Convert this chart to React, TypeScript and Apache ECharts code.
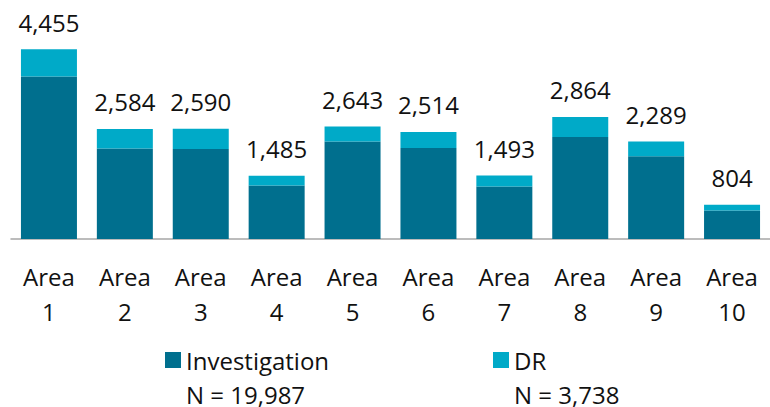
import React, { useEffect, useRef } from "react";
import * as echarts from "echarts";

const categories = ["Area\n1", "Area\n2", "Area\n3", "Area\n4", "Area\n5", "Area\n6", "Area\n7", "Area\n8", "Area\n9", "Area\n10"];
const investigation = [3815, 2126, 2114, 1257, 2288, 2138, 1234, 2396, 1944, 671];
const dr = [640, 458, 476, 228, 355, 376, 259, 468, 345, 133];
const seriesNames = ["Investigation", "DR"];
const seriesN = [19987, 3738];

const FONT = "'Open Sans', 'Noto Sans', sans-serif";
const fmt = (v: number) => v.toLocaleString("en-US");

export default function App() {
  const ref = useRef<HTMLDivElement>(null);
  useEffect(() => {
    if (!ref.current) return;
    const chart = echarts.init(ref.current, undefined, { renderer: "svg" });
    const legendText = (name: string) => {
      const i = seriesNames.indexOf(name);
      return ` \n${name}\nN = ${fmt(seriesN[i])}`;
    };
    const legendBase = {
      orient: "horizontal",
      icon: "rect",
      itemWidth: 16,
      itemHeight: 16,
      itemGap: 0,
      padding: 0,
      formatter: legendText,
      textStyle: {
        fontFamily: FONT,
        fontSize: 24,
        color: "#111",
        lineHeight: 34,
      },
      selectedMode: false,
    };
    chart.setOption({
      animation: false,
      textStyle: { fontFamily: FONT },
      grid: { left: 11, right: 0, top: 26, bottom: 168 },
      legend: [
        { ...legendBase, data: [seriesNames[0]], left: 165, top: 309 },
        { ...legendBase, data: [seriesNames[1]], left: 493, top: 309 },
      ],
      xAxis: {
        type: "category",
        data: categories,
        axisLine: { show: true, lineStyle: { color: "#a6a6a6", width: 1.5 } },
        axisTick: { show: false },
        axisLabel: {
          interval: 0,
          margin: 20,
          fontFamily: FONT,
          fontSize: 24,
          lineHeight: 35,
          color: "#111",
        },
      },
      yAxis: {
        type: "value",
        min: 0,
        max: 5000,
        show: false,
        splitLine: { show: false },
      },
      series: [
        {
          name: seriesNames[0],
          type: "bar",
          stack: "total",
          barWidth: 56,
          data: investigation,
          itemStyle: { color: "#006F8E" },
        },
        {
          name: seriesNames[1],
          type: "bar",
          stack: "total",
          barWidth: 56,
          data: dr,
          itemStyle: { color: "#00AAC8" },
          label: {
            show: true,
            position: "top",
            distance: 15,
            fontFamily: FONT,
            fontSize: 24,
            color: "#111",
            formatter: (p: any) => fmt(investigation[p.dataIndex] + dr[p.dataIndex]),
          },
        },
      ],
    });
    return () => chart.dispose();
  }, []);
  return <div ref={ref} style={{ position: "absolute", left: 0, top: 0, width: 770, height: 407 }} />;
}
